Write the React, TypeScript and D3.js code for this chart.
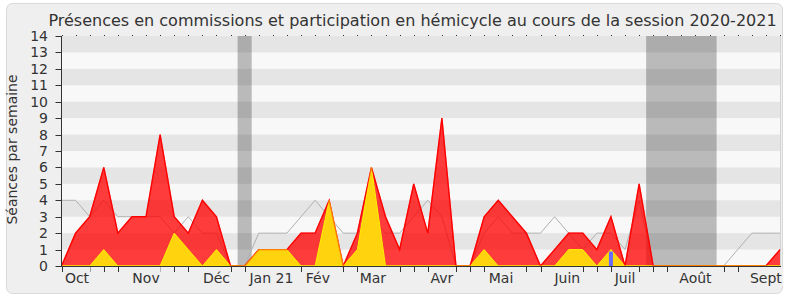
import React, { useEffect, useRef } from "react";
import * as d3 from "d3";

const W = 790;
const H = 300;

const title =
  "Présences en commissions et participation en hémicycle au cours de la session 2020-2021";
const yTitle = "Séances par semaine";

// Weekly values over the 52 weeks of the session
const presences = [
  0, 2, 3, 6, 2, 3, 3, 8, 3, 2,
  4, 3, 0, 0, 1, 1, 1, 2, 2, 4,
  0, 2, 6, 3, 1, 5, 2, 9, 0, 0,
  3, 4, 3, 2, 0, 1, 2, 2, 1, 3,
  0, 5, 0, 0, 0, 0, 0, 0, 0, 0,
  0, 1,
];
const interventions = [
  0, 0, 0, 1, 0, 0, 0, 0, 2, 1,
  0, 1, 0, 0, 1, 1, 1, 0, 0, 4,
  0, 1, 6, 0, 0, 0, 0, 0, 0, 0,
  1, 0, 0, 0, 0, 0, 1, 1, 0, 1,
  0, 0, 0, 0, 0, 0, 0, 0, 0, 0,
  0, 0,
];
const hemicycle = [
  0, 0, 0, 0, 0, 0, 0, 0, 0, 0,
  0, 0, 0, 0, 0, 0, 0, 0, 0, 0,
  0, 0, 0, 0, 0, 0, 0, 0, 0, 0,
  0, 0, 0, 0, 0, 0, 0, 0, 0, 1,
  0, 0, 0, 0, 0, 0, 0, 0, 0, 0,
  0, 0,
];
const median = [
  4, 4, 3, 4, 3, 3, 3, 3, 2, 3,
  2, 2, 0, 0, 2, 2, 2, 3, 4, 3,
  2, 2, 3, 2, 2, 3, 4, 3, 0, 0,
  2, 3, 2, 2, 2, 3, 2, 1, 2, 2,
  1, 4, 0, 0, 0, 0, 0, 0, 1, 2,
  2, 2,
];
const vacationWeeks = [13, 42, 43, 44, 45, 46];
const monthLabels = ["Oct", "Nov", "Déc", "Jan 21", "Fév", "Mar", "Avr", "Mai", "Juin", "Juil", "Août", "Sept"];
const monthWeeks = [1.1, 6, 11, 14.9, 18.2, 22.1, 27, 31.2, 35.9, 40, 45, 50];
const yTickValues = [0, 1, 2, 3, 4, 5, 6, 7, 8, 9, 10, 11, 12, 13, 14];

const FONT = "'DejaVu Sans', Verdana, sans-serif";
const PANEL = "#efefef";

export default function App() {
  const ref = useRef<SVGSVGElement | null>(null);

  useEffect(() => {
    const svg = d3.select(ref.current);
    svg.selectAll("*").remove();

    const n = presences.length;
    const x = d3.scaleLinear().domain([0, n - 1]).range([61.5, 780]);
    const y = d3.scaleLinear().domain([0, 14]).range([266, 36]);
    const [x0, x1] = x.range();
    const yTop = y(14);
    const yBot = y(0);

    // panel
    svg.append("rect")
      .attr("x", 6.5).attr("y", 3.5).attr("width", 776).attr("height", 290)
      .attr("rx", 6).attr("fill", PANEL).attr("stroke", "#d9d9d9");

    // plot background
    svg.append("rect").attr("x", x0).attr("y", yTop).attr("width", x1 - x0).attr("height", yBot - yTop)
      .attr("fill", "#f8f8f8");

    // vacation bands (merge consecutive weeks into runs)
    const runs: [number, number][] = [];
    vacationWeeks.forEach((w) => {
      const last = runs[runs.length - 1];
      if (last && last[1] === w - 1) last[1] = w;
      else runs.push([w, w]);
    });
    svg.append("g").selectAll("rect").data(runs).join("rect")
      .attr("x", (d) => x(d[0] - 0.5)).attr("width", (d) => x(d[1] + 0.5) - x(d[0] - 0.5))
      .attr("y", yTop).attr("height", yBot - yTop).attr("fill", "#bababa");

    // stripes
    const stripes = yTickValues.filter((v) => v % 2 === 1);
    svg.append("g").selectAll("rect").data(stripes).join("rect")
      .attr("x", x0).attr("width", x1 - x0)
      .attr("y", (d) => y(d + 1)).attr("height", (d) => y(d) - y(d + 1))
      .attr("fill", "rgba(0,0,0,0.075)");

    // right border
    svg.append("line").attr("x1", x1 + 0.5).attr("x2", x1 + 0.5).attr("y1", yTop).attr("y2", yBot)
      .attr("stroke", "#d4d4d4");

    const idx = d3.range(n);

    const line = (vals: number[]) =>
      d3.line<number>().x((i) => x(i)).y((i) => y(vals[i]))(idx) as string;
    const area = (vals: number[]) =>
      d3.area<number>().x((i) => x(i)).y0(yBot).y1((i) => y(vals[i]))(idx) as string;

    // median line
    svg.append("path").attr("d", line(median)).attr("fill", "none")
      .attr("stroke", "#b0b0b0").attr("stroke-width", 1);

    // presences (red)
    svg.append("path").attr("d", area(presences)).attr("fill", "rgba(255,0,0,0.76)");
    svg.append("path").attr("d", line(presences)).attr("fill", "none")
      .attr("stroke", "#ff0000").attr("stroke-width", 1.3);

    // interventions (yellow)
    svg.append("path").attr("d", area(interventions)).attr("fill", "#ffd30d")
      .attr("stroke", "#fff000").attr("stroke-width", 1);
    svg.append("path").attr("d", line(presences)).attr("fill", "none")
      .attr("stroke", "#ff0000").attr("stroke-width", 1.3).attr("stroke-opacity", 0.45);

    // hemicycle (blue bars)
    svg.append("g").selectAll("rect").data(idx.filter((i) => hemicycle[i] > 0)).join("rect")
      .attr("x", (i) => x(i) - 2).attr("width", 4)
      .attr("y", (i) => y(hemicycle[i]) + 2).attr("height", (i) => yBot - y(hemicycle[i]) - 2)
      .attr("fill", "#6a6aff");

    // axes
    const axis = svg.append("g").attr("fill", "#333").attr("font-family", FONT);
    axis.append("line").attr("x1", x0).attr("x2", x0).attr("y1", yTop).attr("y2", yBot + 1)
      .attr("stroke", "#333");
    axis.append("line").attr("x1", x0).attr("x2", x1 + 1).attr("y1", yBot + 0.5).attr("y2", yBot + 0.5)
      .attr("stroke", "#333");

    // y ticks + labels
    yTickValues.forEach((v) => {
      const yy = Math.round(y(v)) + 0.5;
      axis.append("line").attr("x1", x0 - 6).attr("x2", x0).attr("y1", yy).attr("y2", yy)
        .attr("stroke", "#333");
      axis.append("text").attr("x", 48).attr("y", y(v)).attr("dy", "0.36em")
        .attr("text-anchor", "end").attr("font-size", 14).text(String(v));
    });

    // x ticks (bottom + top)
    idx.forEach((i) => {
      const xx = Math.round(x(i)) + 0.5;
      axis.append("line").attr("x1", xx).attr("x2", xx).attr("y1", yBot).attr("y2", yBot + 6)
        .attr("stroke", "#333");
      axis.append("rect").attr("x", Math.round(x(i))).attr("y", yTop - 1).attr("width", 1).attr("height", 1)
        .attr("fill", "#333");
    });

    // month labels with background
    monthLabels.forEach((m, k) => {
      const g = axis.append("g");
      const t = g.append("text").attr("x", x(monthWeeks[k])).attr("y", 283)
        .attr("text-anchor", "middle").attr("font-size", 14).text(m);
      const bb = (t.node() as SVGTextElement).getBBox();
      g.insert("rect", "text").attr("x", bb.x - 1).attr("y", yBot + 1)
        .attr("width", bb.width + 2).attr("height", bb.y + bb.height - yBot - 1)
        .attr("fill", PANEL);
    });

    // titles
    svg.append("text").attr("x", 412.5).attr("y", 26).attr("text-anchor", "middle")
      .attr("font-family", FONT).attr("font-size", 16).attr("fill", "#333").text(title);
    svg.append("text").attr("transform", `translate(17,149.5) rotate(-90)`)
      .attr("text-anchor", "middle").attr("font-family", FONT).attr("font-size", 14)
      .attr("fill", "#333").text(yTitle);
  }, []);

  return (
    <svg
      ref={ref}
      width={W}
      height={H}
      style={{ position: "absolute", left: 0, top: 0, background: "#fff" }}
    />
  );
}
